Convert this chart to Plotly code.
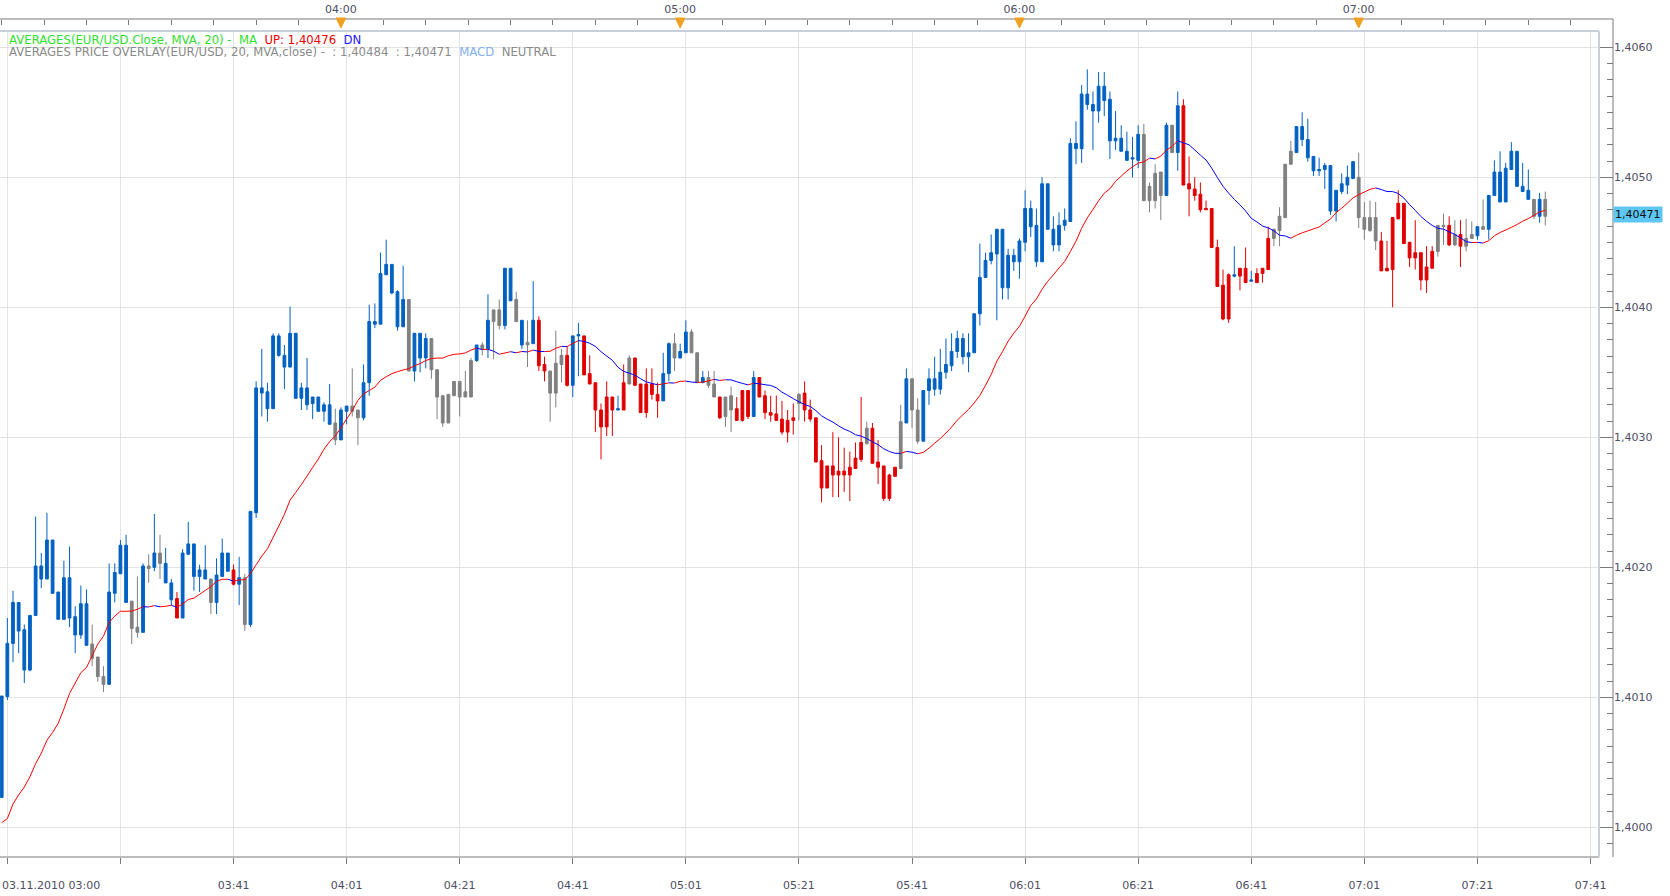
import plotly.graph_objects as go

# ---------------- data ----------------
# one candle per minute, minutes after 03:00 on 03.11.2010
minutes = list(range(274))

# candle colour state: B = blue (MACD up), R = red (MACD down), G = gray (neutral)
state = list(
    "BBBBBBBBBB" "BBBBBBGGGB" "BBBGGBGBGB" "BRBBBBBGBB" "BRBGBBBBBB"
    "BBBBBBBBBG" "BBGGBBBBBB" "BBGBBBGGGG" "GGGGBGBGGB" "BGBGBRRGGG"
    "RBBRRRRRRB" "RGRRRRRBBG" "BBGGBGGRGG" "RRRBRRRRRR" "RGRRRRRRRR"
    "RRRGRRRRRG" "BGGBBBBBBB" "BBBBBBBBBB" "BBBBBBBBBB" "BBBBBBBBBB"
    "BBGGGGBGBR" "RRRRRRRRBR" "RBRRRGGGGB" "BBBBBBBBBB" "GGGGRRRRRR"
    "RRRRGGRGRG" "GBGBBBBBBB" "BGBG"
)

# prices in pips above 1.4000
body_top = [
    10.1, 14.15, 17.3, 17.3, 15.2, 16.3, 20.1, 20.1, 22.1, 22.1,
    18.1, 19.2, 19.2, 16.2, 17.2, 17.2, 14.1, 13.1, 11.6, 18.1,
    19.6, 21.7, 21.7, 17.4, 15.4, 20.1, 20.1, 21.1, 21.1, 20.3,
    18.8, 17.6, 21.1, 21.8, 21.8, 19.8, 19.8, 19.1, 19.4, 21.1,
    21.1, 19.8, 19.2, 19.2, 24.3, 33.8, 33.8, 33.5, 37.8, 37.8,
    36.3, 38.0, 38.0, 33.8, 33.8, 33.1, 33.1, 32.5, 32.5, 31.1,
    32.1, 32.4, 32.4, 32.1, 34.2, 38.9, 38.9, 42.6, 43.3, 43.3,
    41.2, 40.6, 40.6, 38.0, 38.0, 37.6, 37.6, 35.2, 33.2, 33.3,
    34.3, 34.3, 33.5, 35.9, 37.1, 37.1, 39.0, 39.8, 39.8, 43.0,
    43.0, 40.6, 39.0, 37.3, 39.0, 39.0, 35.6, 35.1, 35.7, 36.3,
    36.3, 37.8, 37.9, 37.8, 34.9, 34.2, 32.1, 33.1, 33.1, 32.2,
    34.2, 36.1, 36.1, 34.1, 34.1, 34.1, 33.3, 34.9, 37.2, 37.2,
    36.6, 38.1, 38.1, 36.5, 34.6, 34.6, 34.1, 33.1, 33.1, 33.2,
    32.2, 33.6, 33.6, 34.6, 34.6, 33.2, 31.9, 31.8, 31.4, 31.3,
    31.5, 33.3, 33.4, 32.1, 31.5, 28.2, 27.8, 27.8, 27.4, 27.4,
    27.7, 28.4, 29.6, 30.7, 30.7, 28.1, 27.8, 27.1, 27.7, 31.2,
    34.5, 34.5, 32.1, 33.6, 34.5, 34.5, 35.0, 35.6, 36.6, 37.6,
    37.6, 36.5, 39.5, 42.3, 43.6, 44.2, 46.0, 46.0, 44.0, 44.0,
    45.1, 47.6, 47.6, 46.3, 49.5, 49.5, 46.0, 46.3, 46.7, 52.6,
    52.6, 56.4, 56.4, 55.6, 57.0, 57.0, 56.0, 53.0, 53.0, 52.0,
    51.5, 53.3, 53.3, 49.3, 50.3, 50.4, 54.0, 54.0, 55.5, 55.5,
    49.5, 49.1, 48.7, 47.6, 47.6, 44.6, 41.7, 42.5, 42.5, 43.0,
    43.0, 42.1, 42.6, 43.0, 45.3, 46.0, 47.0, 51.0, 52.0, 53.9,
    53.9, 52.9, 51.6, 50.6, 50.9, 50.9, 49.0, 49.5, 50.0, 51.2,
    50.0, 46.9, 46.9, 46.9, 45.1, 43.0, 46.9, 48.0, 48.0, 45.0,
    44.2, 44.2, 43.1, 44.3, 46.3, 46.3, 46.3, 45.6, 45.6, 45.3,
    45.6, 46.2, 46.2, 48.6, 50.4, 50.4, 50.7, 52.0, 52.0, 49.3,
    49.0, 48.3, 48.3, 48.3,
]
body_bottom = [
    2.3, 10.06, 14.15, 15.1, 12.1, 12.1, 16.3, 19.1, 19.1, 18.0,
    16.0, 16.0, 16.1, 14.8, 14.8, 14.0, 13.0, 11.6, 11.0, 11.0,
    18.0, 19.5, 17.3, 15.3, 15.0, 15.0, 19.9, 20.0, 20.3, 18.8,
    17.5, 16.1, 16.1, 21.0, 19.3, 19.3, 19.1, 17.3, 17.3, 19.3,
    19.7, 18.7, 18.7, 15.6, 15.6, 24.2, 33.4, 32.2, 32.2, 36.3,
    35.4, 35.4, 33.0, 33.0, 32.5, 32.6, 32.0, 32.0, 31.0, 29.8,
    29.8, 32.0, 32.0, 31.5, 31.5, 34.2, 38.7, 38.7, 42.5, 41.1,
    38.5, 38.5, 35.1, 35.1, 36.1, 36.1, 35.2, 33.1, 31.1, 31.1,
    33.2, 33.1, 33.1, 33.1, 35.9, 36.8, 36.8, 38.9, 38.6, 38.6,
    40.5, 38.9, 37.1, 37.1, 37.2, 35.5, 35.1, 33.4, 33.4, 35.6,
    34.0, 34.0, 37.8, 34.8, 34.1, 32.1, 30.8, 30.8, 32.1, 32.1,
    32.1, 34.1, 34.0, 31.9, 31.9, 33.3, 32.8, 32.8, 34.9, 36.1,
    36.1, 36.5, 36.5, 34.2, 34.2, 34.0, 33.1, 31.5, 31.6, 32.1,
    31.3, 31.3, 31.6, 31.6, 33.1, 31.9, 31.7, 31.3, 30.4, 30.4,
    31.3, 32.6, 32.1, 31.4, 28.1, 26.1, 26.1, 27.1, 27.1, 27.1,
    27.1, 27.6, 28.3, 29.5, 28.0, 27.7, 25.3, 25.3, 27.0, 27.6,
    31.1, 32.1, 29.7, 29.7, 33.6, 33.7, 33.7, 35.0, 35.5, 36.6,
    36.2, 36.2, 36.5, 39.5, 42.3, 43.6, 44.1, 41.5, 41.5, 43.5,
    43.5, 45.0, 46.2, 43.5, 43.5, 46.0, 44.8, 44.8, 46.3, 46.6,
    52.2, 52.2, 55.6, 55.1, 55.1, 55.9, 52.8, 52.8, 52.0, 51.3,
    51.4, 51.3, 48.2, 48.2, 48.2, 48.6, 48.6, 51.9, 51.9, 49.4,
    49.1, 48.6, 47.5, 47.5, 44.6, 41.6, 39.1, 39.1, 42.4, 42.4,
    41.9, 42.0, 41.9, 42.6, 42.9, 45.3, 45.9, 46.9, 51.0, 51.9,
    52.9, 51.5, 50.5, 50.5, 50.6, 47.4, 47.4, 48.9, 49.4, 49.9,
    46.9, 46.0, 45.9, 45.1, 42.8, 42.8, 42.9, 46.8, 44.9, 43.8,
    43.8, 42.1, 42.1, 43.0, 44.3, 46.2, 44.8, 44.8, 44.7, 44.7,
    45.3, 45.5, 46.0, 46.0, 48.6, 48.1, 48.1, 50.6, 49.3, 48.9,
    48.3, 47.0, 47.0, 47.0,
]
high = [
    10.1, 16.1, 18.2, 17.3, 15.6, 16.3, 23.9, 21.1, 24.2, 22.1,
    18.1, 20.5, 21.6, 17.0, 18.6, 18.3, 15.6, 13.1, 12.4, 20.3,
    20.3, 22.1, 22.5, 17.4, 19.3, 20.3, 21.0, 24.1, 22.5, 21.5,
    19.1, 18.1, 21.4, 23.5, 21.8, 20.2, 21.7, 19.1, 20.7, 22.2,
    21.1, 20.2, 20.8, 19.5, 24.3, 34.3, 36.8, 34.2, 38.0, 38.0,
    37.1, 40.05, 38.0, 34.2, 36.1, 33.1, 33.1, 32.7, 34.1, 32.2,
    32.3, 32.4, 35.3, 32.1, 35.6, 40.2, 40.3, 44.2, 45.2, 43.3,
    41.3, 43.2, 40.6, 38.0, 38.0, 38.0, 37.6, 35.2, 33.2, 33.3,
    34.3, 34.3, 35.1, 36.1, 37.1, 37.3, 41.0, 39.8, 40.6, 43.0,
    43.0, 41.2, 39.0, 39.0, 42.0, 39.3, 36.2, 35.1, 38.2, 36.8,
    37.0, 37.8, 38.8, 37.8, 36.3, 34.2, 32.6, 34.3, 33.1, 33.2,
    35.6, 36.3, 36.1, 34.1, 35.3, 35.3, 34.2, 36.5, 37.3, 38.0,
    37.2, 39.0, 38.3, 36.5, 35.1, 35.1, 35.1, 33.1, 33.1, 33.9,
    33.1, 33.6, 33.6, 35.1, 34.6, 33.6, 33.2, 33.2, 32.8, 32.1,
    32.6, 33.4, 34.3, 32.9, 31.5, 29.4, 27.8, 30.4, 30.0, 29.2,
    28.9, 29.6, 33.1, 31.2, 31.1, 29.8, 27.8, 27.2, 27.7, 32.5,
    35.3, 34.5, 33.0, 33.6, 35.3, 36.2, 36.8, 37.6, 38.0, 38.2,
    38.0, 38.0, 39.5, 44.9, 44.2, 45.6, 46.0, 46.0, 44.5, 44.5,
    45.3, 49.0, 48.2, 47.6, 50.0, 49.5, 47.0, 47.3, 47.6, 53.0,
    54.3, 57.1, 58.3, 56.6, 58.1, 58.1, 56.6, 55.1, 54.0, 53.5,
    53.1, 54.0, 54.1, 49.6, 51.0, 50.4, 54.2, 54.0, 56.6, 56.0,
    51.6, 50.0, 49.6, 48.2, 47.6, 45.2, 42.9, 42.6, 44.7, 43.0,
    44.6, 42.8, 43.0, 43.0, 46.2, 46.0, 47.7, 51.0, 52.8, 53.9,
    55.0, 54.5, 51.6, 51.5, 51.1, 50.9, 49.0, 50.3, 50.9, 51.2,
    51.9, 48.1, 48.2, 48.1, 45.8, 45.1, 46.9, 49.0, 48.0, 45.0,
    46.7, 44.2, 44.7, 44.7, 46.3, 47.2, 47.0, 46.7, 46.7, 46.8,
    46.6, 46.2, 48.3, 48.6, 51.3, 52.0, 51.1, 52.7, 52.0, 51.1,
    50.6, 48.3, 48.8, 48.9,
]
low = [
    2.3, 9.8, 12.7, 13.4, 11.1, 12.0, 16.3, 18.4, 19.1, 18.0,
    16.0, 16.0, 15.4, 13.4, 14.5, 14.0, 12.4, 11.2, 10.4, 11.0,
    17.3, 19.5, 17.3, 14.1, 14.6, 15.0, 18.8, 19.7, 19.1, 18.8,
    17.1, 16.1, 16.1, 21.0, 18.2, 18.1, 19.1, 16.4, 16.4, 19.3,
    19.7, 18.6, 17.1, 15.1, 15.4, 23.8, 31.6, 31.2, 32.2, 36.2,
    33.7, 35.4, 33.0, 32.1, 32.1, 31.4, 32.0, 31.2, 31.0, 29.4,
    29.8, 31.0, 31.6, 29.4, 31.3, 33.2, 38.4, 38.7, 42.5, 41.0,
    38.2, 38.5, 35.1, 34.3, 35.0, 35.3, 34.5, 31.4, 30.8, 31.1,
    33.2, 31.6, 33.1, 33.1, 35.8, 36.3, 36.1, 36.0, 38.3, 38.3,
    40.5, 38.9, 36.8, 35.4, 37.2, 35.1, 34.3, 31.2, 32.3, 34.2,
    33.9, 33.1, 34.7, 34.8, 34.1, 30.4, 28.3, 30.1, 30.1, 32.1,
    32.1, 34.1, 34.0, 31.9, 31.5, 32.9, 31.5, 32.8, 34.3, 35.1,
    36.1, 36.5, 36.5, 34.2, 34.2, 33.8, 33.1, 31.4, 30.8, 30.4,
    31.3, 31.2, 31.4, 31.6, 33.1, 31.4, 31.2, 31.3, 30.2, 29.6,
    30.2, 31.3, 31.2, 31.2, 28.1, 25.0, 26.1, 25.4, 25.4, 25.8,
    25.1, 27.6, 28.1, 29.5, 28.0, 26.4, 25.1, 25.1, 27.0, 27.6,
    31.1, 30.7, 29.5, 29.7, 32.5, 33.2, 33.3, 34.5, 35.1, 36.1,
    35.6, 35.0, 36.5, 38.6, 42.3, 43.3, 39.0, 40.6, 40.6, 42.8,
    42.2, 44.3, 45.4, 43.1, 43.5, 46.0, 44.3, 44.3, 45.9, 46.6,
    51.0, 51.1, 55.2, 52.1, 54.2, 54.7, 51.4, 52.1, 52.0, 51.3,
    50.0, 50.7, 48.2, 47.3, 47.6, 46.7, 48.6, 51.9, 50.5, 49.4,
    47.0, 48.2, 47.3, 47.5, 44.6, 41.6, 39.0, 38.8, 42.3, 41.3,
    41.9, 42.0, 41.9, 41.9, 42.9, 44.7, 44.7, 46.9, 51.0, 51.9,
    52.4, 51.2, 50.1, 50.1, 49.1, 47.1, 46.6, 48.7, 48.7, 49.9,
    46.1, 45.2, 45.8, 44.4, 42.8, 42.8, 40.0, 46.8, 44.9, 43.1,
    42.9, 41.3, 41.1, 43.0, 43.9, 44.8, 44.7, 44.7, 43.1, 44.3,
    45.3, 45.2, 46.0, 45.2, 48.6, 48.1, 48.1, 50.6, 49.3, 48.9,
    48.3, 46.8, 46.5, 46.3,
]
# 20-period MA of close: first 19 values (window not yet full)
ma_warmup = [0.36, 0.67, 1.8, 2.5, 3.1, 3.9, 4.9, 5.7, 6.7, 7.3,
             8.0, 9.1, 10.3, 11.1, 11.9, 12.3, 13.2, 14.1, 14.7]

y_ticks = [1.4000, 1.4010, 1.4020, 1.4030, 1.4040, 1.4050, 1.4060]
grid_minutes = [1, 21, 41, 61, 81, 101, 121, 141, 161, 181, 201, 221, 241, 261, 281]
bottom_labels = ["", "", "03:41", "04:01", "04:21", "04:41", "05:01", "05:21",
                 "05:41", "06:01", "06:21", "06:41", "07:01", "07:21", "07:41"]
top_minutes = [60, 120, 180, 240]
top_labels = ["04:00", "05:00", "06:00", "07:00"]
last_price_text = "1,40471"
last_price = 1.40471

# ---------------- derived ----------------
BASE, PIP = 1.4, 0.0001
n = len(minutes)
opens, closes = [], []
prev = None
for i in range(n):
    t, b = body_top[i], body_bottom[i]
    if prev is None:
        o, c = b, t
    elif abs(t - prev) < abs(b - prev):
        o, c = t, b
    else:
        o, c = b, t
    opens.append(o)
    closes.append(c)
    prev = c
ma = list(ma_warmup) + [sum(closes[i - 19:i + 1]) / 20 for i in range(19, n)]

def px(v):
    return BASE + v * PIP

COL = {"B": "#0061c2", "R": "#e00000", "G": "#808080"}

fig = go.Figure()
for key in ["G", "R", "B"]:
    idx = [i for i in range(n) if state[i] == key]
    fig.add_trace(go.Candlestick(
        x=[minutes[i] for i in idx],
        open=[px(opens[i]) for i in idx],
        close=[px(closes[i]) for i in idx],
        high=[px(max(high[i], body_top[i])) for i in idx],
        low=[px(min(low[i], body_bottom[i])) for i in idx],
        increasing=dict(line=dict(color=COL[key], width=1), fillcolor=COL[key]),
        decreasing=dict(line=dict(color=COL[key], width=1), fillcolor=COL[key]),
        whiskerwidth=0, hoverinfo="skip", showlegend=False,
    ))

# MA line: red while rising, blue while falling
seg = {"up": ([], []), "dn": ([], [])}
for i in range(1, n):
    k = "up" if ma[i] >= ma[i - 1] else "dn"
    seg[k][0].extend([minutes[i - 1], minutes[i], None])
    seg[k][1].extend([px(ma[i - 1]), px(ma[i]), None])
fig.add_trace(go.Scatter(x=seg["up"][0], y=seg["up"][1], mode="lines",
                         line=dict(color="#ff0000", width=1), hoverinfo="skip", showlegend=False))
fig.add_trace(go.Scatter(x=seg["dn"][0], y=seg["dn"][1], mode="lines",
                         line=dict(color="#0000ff", width=1), hoverinfo="skip", showlegend=False))
# anchor trace for the outer (top / right) axes
fig.add_trace(go.Scatter(x=[minutes[0]], y=[px(ma[0])], xaxis="x2", yaxis="y2",
                         mode="markers", marker=dict(opacity=0), hoverinfo="skip", showlegend=False))

# ---------------- layout ----------------
W, H = 1670, 896
PL, PR, PT, PB = 0, 1613, 19, 857          # outer plot box (axes lines)
FR_R, FR_T = 1599, 31                      # inner frame
pw, ph = PR - PL, PB - PT
xdom = [0, (FR_R - PL) / pw]
ydom = [0, (PB - FR_T) / ph]
xr = [-0.30, 282.5]
yr = [1.399772, 1.406125]

def py(Y):
    return (PB - Y) / ph

def pxp(X):
    return (X - PL) / pw

AX_FONT = dict(family="DejaVu Sans", size=11, color="#4e4e64")
fig.update_layout(
    width=W, height=H,
    margin=dict(l=PL, r=W - PR, t=PT, b=H - PB, pad=0),
    paper_bgcolor="white", plot_bgcolor="white",
    separators=",.",
    showlegend=False,
    xaxis=dict(domain=xdom, range=xr, tickmode="array", tickvals=grid_minutes,
               ticktext=bottom_labels, ticks="outside", ticklen=6, tickcolor="#7a7a7a",
               showgrid=True, gridcolor="#e3e3e3", gridwidth=1, zeroline=False, showline=False,
               rangeslider=dict(visible=False), tickfont=AX_FONT, ticklabelstandoff=12),
    yaxis=dict(domain=ydom, range=yr, tickmode="array", tickvals=y_ticks, showticklabels=False,
               ticks="", showgrid=True, gridcolor="#e3e3e3", gridwidth=1, zeroline=False, showline=False),
    xaxis2=dict(overlaying="x", side="top", anchor="free", position=1, range=xr,
                tickmode="array", tickvals=top_minutes, ticktext=top_labels,
                ticks="inside", ticklen=5, tickcolor="#7a7a7a",
                minor=dict(tickmode="linear", tick0=0, dtick=7.5, ticks="inside", ticklen=5, tickcolor="#7a7a7a"),
                showgrid=False, zeroline=False, showline=False, tickfont=AX_FONT, ticklabelstandoff=4),
    yaxis2=dict(overlaying="y", side="right", anchor="free", position=1, range=yr,
                tickmode="array", tickvals=y_ticks, ticktext=[f"{v:.4f}".replace(".", ",") for v in y_ticks],
                ticks="inside", ticklen=14, tickcolor="#7a7a7a",
                minor=dict(tickmode="linear", tick0=1.4, dtick=0.000125, ticks="inside", ticklen=6, tickcolor="#7a7a7a"),
                showgrid=False, zeroline=False, showline=False, tickfont=AX_FONT),
)

shapes = []
# outer axis lines
shapes.append(dict(type="line", xref="paper", yref="paper", x0=0, x1=1, y0=1, y1=1,
                   line=dict(color="#7a7a7a", width=1)))
shapes.append(dict(type="line", xref="paper", yref="paper", x0=1, x1=1, y0=0, y1=1,
                   line=dict(color="#7a7a7a", width=1)))
shapes.append(dict(type="line", xref="paper", yref="paper", x0=0, x1=xdom[1], y0=0, y1=0,
                   line=dict(color="#7a7a7a", width=1)))
# inner frame
shapes.append(dict(type="line", xref="paper", yref="paper", x0=0, x1=xdom[1], y0=ydom[1], y1=ydom[1],
                   line=dict(color="#c6cfdb", width=2)))
shapes.append(dict(type="line", xref="paper", yref="paper", x0=xdom[1], x1=xdom[1], y0=0, y1=ydom[1],
                   line=dict(color="#c6cfdb", width=2)))
# orange hour markers on the top axis
for m in top_minutes:
    shapes.append(dict(type="path", xref="x", yref="paper",
                       path=f"M {m - 0.85},{py(18)} L {m + 0.85},{py(18)} L {m},{py(28)} Z",
                       fillcolor="#f0a020", line=dict(color="#f0a020", width=1)))
fig.update_layout(shapes=shapes)

# first bottom label (left-aligned date)
fig.add_annotation(xref="paper", yref="paper", x=0, y=py(885), xanchor="left", yanchor="middle",
                   text="03.11.2010 03:00", showarrow=False, font=AX_FONT)
# indicator legend lines
NB = "\u00a0"
LEG_SIZE = 11.7
fig.add_annotation(
    xref="paper", yref="paper", x=pxp(7), y=py(39.5), xanchor="left", yanchor="middle",
    showarrow=False, align="left", font=dict(family="DejaVu Sans", size=LEG_SIZE),
    text=(f"<span style='color:#2ee02e'>AVERAGES(EUR/USD.Close, MVA, 20) -{NB}{NB}MA</span>{NB}{NB}"
          f"<span style='color:#f00000'>UP: 1,40476</span>{NB}{NB}<span style='color:#1a1aff'>DN</span>"))
fig.add_annotation(
    xref="paper", yref="paper", x=pxp(7), y=py(52.5), xanchor="left", yanchor="middle",
    showarrow=False, align="left", font=dict(family="DejaVu Sans", size=LEG_SIZE),
    text=(f"<span style='color:#8a8a8a'>AVERAGES PRICE OVERLAY(EUR/USD, 20, MVA,close) -{NB}{NB}: 1,40484{NB}{NB}: 1,40471</span>{NB}{NB}"
          f"<span style='color:#7fb0ee'>MACD</span>{NB}{NB}<span style='color:#8a8a8a'>NEUTRAL</span>"))
# last price box
fig.add_annotation(xref="paper", yref="y", x=1, y=last_price, xanchor="left", yanchor="middle",
                   text=last_price_text, showarrow=False, bgcolor="#5ec6f2", borderpad=1,
                   font=dict(family="DejaVu Sans", size=11, color="#101010"))

fig.write_html("out.html")
